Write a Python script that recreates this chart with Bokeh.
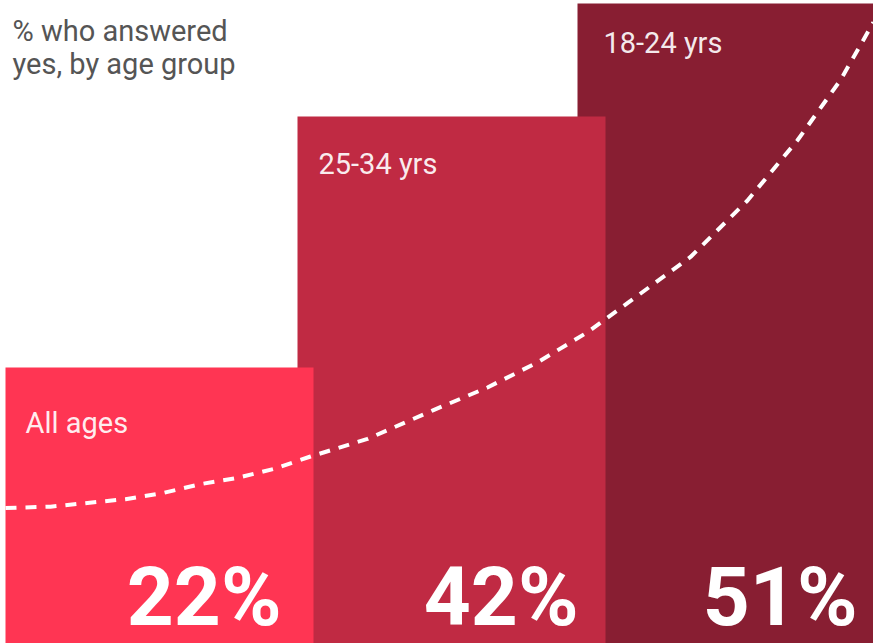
from bokeh.plotting import figure
from bokeh.models import Range1d, Label, ColumnDataSource
from bokeh.core.properties import value
from bokeh.embed import file_html
from bokeh.resources import INLINE

# ---------------- data ----------------
categories = ["All ages", "25-34 yrs", "18-24 yrs"]
values = [22, 42, 51]
pct_labels = ["22%", "42%", "51%"]
title_lines = ["% who answered", "yes, by age group"]

# dashed trend curve (x in chart-width units, y in %)
curve_x = [5, 50, 87, 125, 163, 200, 237, 273, 310, 367, 433, 487, 537, 587, 630, 690, 747, 797, 840, 873]
curve_y = [10.8, 10.9, 11.2, 11.5, 12.0, 12.7, 13.2, 13.9, 14.9, 16.3, 18.6, 20.4, 22.4, 24.8, 27.3, 30.8, 35.3, 40.1, 44.9, 49.5]

# ---------------- layout / style ----------------
W, H = 873, 643
PX_PER_PCT = 12.55
bar_left = [5, 297, 577]
bar_width = 308
bar_colors = ["#FF3553", "#C02A43", "#881E32"]
label_dx = [20, 21, 26]
label_dy = [56, 48, 40]
pct_dx = [-32, -27, -28]

bar_right = [l + bar_width for l in bar_left]

p = figure(width=W, height=H, x_range=Range1d(0, W), y_range=Range1d(0, H / PX_PER_PCT),
           toolbar_location=None, output_backend="svg", min_border=0,
           x_axis_location=None, y_axis_location=None)
p.grid.visible = False
p.outline_line_color = None
p.background_fill_color = "white"
p.border_fill_color = "white"

src = ColumnDataSource(dict(left=bar_left, right=bar_right, top=values, color=bar_colors,
                            cat=categories, pct=pct_labels, ldx=label_dx, ldy=label_dy,
                            pdx=pct_dx, zero=[0] * len(values)))
# bars: draw back to front (rightmost first)
for i in reversed(range(len(values))):
    p.quad(left=[bar_left[i]], right=[bar_right[i]], bottom=[0], top=[values[i]],
           fill_color=bar_colors[i], line_color=None)

# dashed curve
p.line(curve_x, curve_y, line_color="white", line_width=4, line_dash="11 9", line_cap="butt")

# category labels inside the bars
p.text(x="left", y="top", text="cat", x_offset="ldx", y_offset="ldy", source=src,
       text_color="white", text_alpha=0.92, text_font=value("Roboto"), text_font_size="29px",
       text_baseline="alphabetic", text_align="left")

# big percentages
p.text(x="right", y="zero", text="pct", x_offset="pdx", y_offset=-47, source=src,
       text_color="white", text_font=value("Roboto"), text_font_size="82px",
       text_font_style="bold", text_baseline="alphabetic", text_align="right")

# title
for i, line in enumerate(title_lines):
    p.add_layout(Label(x=12, y=H - 30 - 33 * i, x_units="screen", y_units="screen",
                       text=line, text_color="#555555", text_font="Roboto",
                       text_font_size="29px", text_baseline="alphabetic"))

open("out.html", "w").write(file_html(p, INLINE))
